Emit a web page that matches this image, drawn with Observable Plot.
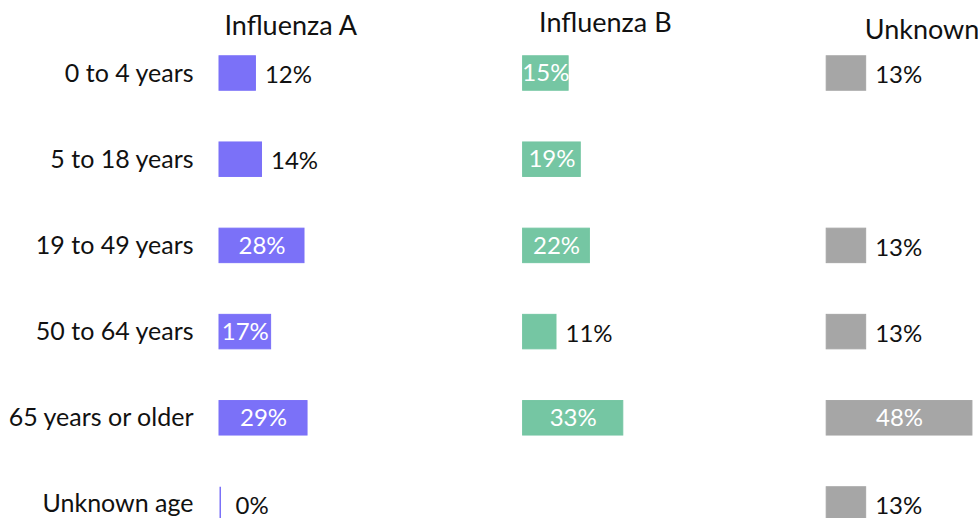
<!DOCTYPE html>
<html><head><meta charset="utf-8">
<script src="https://cdn.jsdelivr.net/npm/d3@7"></script>
<script src="https://cdn.jsdelivr.net/npm/@observablehq/plot@0.6"></script>
<style>
html,body{margin:0;padding:0;background:#fff;overflow:hidden}
#chart{width:978px;height:518px;overflow:hidden}
</style></head><body><div id="chart"></div>
<script>
const ageGroups = ["0 to 4 years", "5 to 18 years", "19 to 49 years", "50 to 64 years", "65 years or older", "Unknown age"];
const typeNames = ["Influenza A", "Influenza B", "Unknown"];
const influenzaA = [12, 14, 28, 17, 29, 0];
const influenzaB = [15, 19, 22, 11, 33, null];
const unknownType = [13, null, 13, 13, 48, 13];
const typeColors = ["#7b71f8", "#75c6a3", "#a6a6a6"];

const seriesValues = [influenzaA, influenzaB, unknownType];
const rows = [];
typeNames.forEach((t, j) => seriesValues[j].forEach((v, i) => {
  if (v != null) rows.push({type: t, age: ageGroups[i], value: v});
}));
const fmt = d => d.value + "%";
const titleMark = (name, dx, dy) => Plot.text([name], {
  fx: d => d, text: d => d, frameAnchor: "top-left", textAnchor: "start",
  lineAnchor: "bottom", dx, dy, fontSize: 27, fill: "#111"
});

const plot = Plot.plot({
  width: 978, height: 537,
  marginLeft: 219, marginRight: 0, marginTop: 40, marginBottom: 0,
  style: {fontFamily: "Lato, sans-serif", fontSize: "24px", background: "#fff", color: "#111"},
  fx: {domain: typeNames, paddingInner: 0.5, paddingOuter: 0, round: false, axis: null},
  x: {domain: [0, 50], axis: null},
  y: {domain: ageGroups, paddingInner: 0.6, paddingOuter: 0.183, round: false, axis: null},
  color: {domain: typeNames, range: typeColors},
  marks: [
    Plot.axisY({tickSize: 0, tickPadding: 26, label: null, fontSize: 25}),
    Plot.barX(rows.filter(d => d.value > 0), {fx: "type", y: "age", x: "value", fill: "type", stroke: "type", strokeWidth: 1}),
    Plot.barX(rows.filter(d => d.value === 0), {fx: "type", y: "age", x1: 0, x2: "value", fill: "type", insetLeft: 0.5, insetRight: -2}),
    Plot.text(rows.filter(d => d.value >= 15), {fx: "type", y: "age", x: d => d.value / 2, text: fmt, fill: "white", fontSize: 24}),
    Plot.text(rows.filter(d => d.value < 15 && d.value > 0), {fx: "type", y: "age", x: "value", text: fmt, textAnchor: "start", dx: 9, dy: 2, fill: "#111", fontSize: 24}),
    Plot.text(rows.filter(d => d.value === 0), {fx: "type", y: "age", x: "value", text: fmt, textAnchor: "start", dx: 16, dy: 2, fill: "#111", fontSize: 24}),
    titleMark(typeNames[0], 5, -6),
    titleMark(typeNames[1], 16, -9),
    titleMark(typeNames[2], 38, -2)
  ]
});
document.getElementById("chart").appendChild(plot);
</script></body></html>
